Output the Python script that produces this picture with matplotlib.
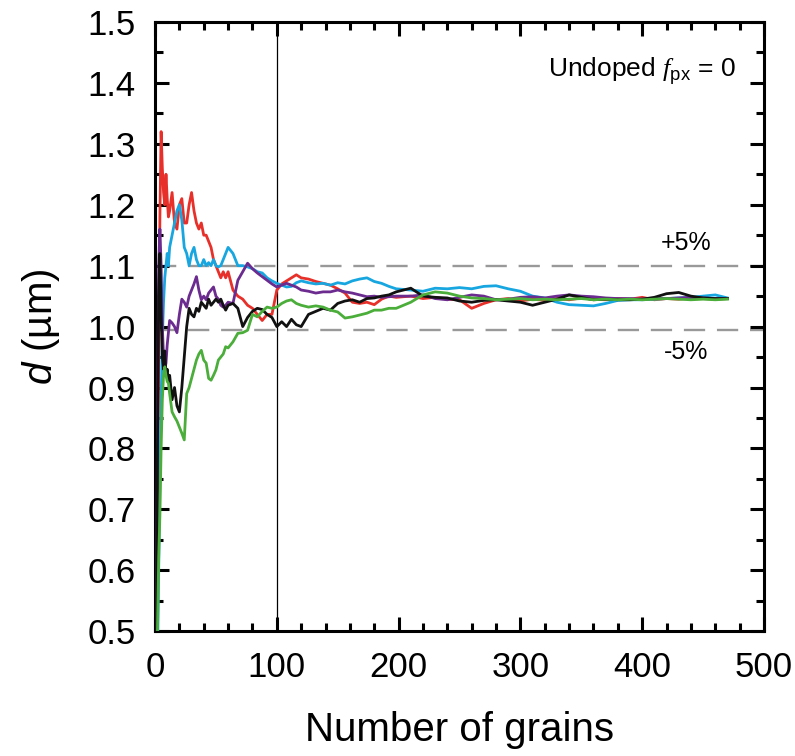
import matplotlib
matplotlib.use("Agg")
import matplotlib.pyplot as plt
from matplotlib.ticker import MultipleLocator

plt.rcParams['font.family'] = ['Liberation Sans', 'DejaVu Sans']
plt.rcParams['mathtext.fontset'] = 'custom'
plt.rcParams['mathtext.rm'] = 'Liberation Sans'
plt.rcParams['mathtext.it'] = 'Liberation Sans:italic'
plt.rcParams['mathtext.cal'] = 'Liberation Serif:italic'

# running mean grain size d (um) against number of grains counted
grains = [1, 2, 3, 4, 5, 6, 7, 8, 9, 10, 11, 12,
          14, 16, 18, 20, 22, 24, 26, 28, 30, 32, 34, 36, 38, 40, 42, 44, 46, 48, 50, 52, 54, 56, 58, 60,
          64, 68, 72, 76, 80, 84, 88, 92, 96, 100, 104, 108, 112, 116, 120,
          126, 132, 138, 144, 150, 156, 162, 168, 174, 180, 186, 192, 198,
          210, 220, 230, 240, 250, 260, 270, 280, 290, 300, 310, 320, 330, 340, 350, 360, 370, 380, 390,
          400, 410, 420, 430, 440, 450, 460, 470]

d_red = [0.40, 0.62, 0.95, 1.18, 1.32, 1.26, 1.22, 1.20, 1.25, 1.21, 1.18, 1.19,
         1.22, 1.17, 1.16, 1.20, 1.21, 1.17, 1.17, 1.20, 1.22, 1.19, 1.17, 1.16, 1.17, 1.15, 1.15, 1.14,
         1.13, 1.11, 1.10, 1.09, 1.08, 1.09, 1.08, 1.09,
         1.06, 1.05, 1.045, 1.035, 1.03, 1.02, 1.01, 1.02, 1.02, 1.06, 1.07, 1.075, 1.08, 1.085, 1.08,
         1.078, 1.074, 1.071, 1.068, 1.062, 1.055, 1.04, 1.038, 1.04, 1.036, 1.045, 1.05, 1.048,
         1.05, 1.046, 1.048, 1.045, 1.044, 1.03, 1.038, 1.044, 1.046, 1.042, 1.045, 1.043, 1.046, 1.044,
         1.047, 1.045, 1.044, 1.046, 1.045, 1.048, 1.044, 1.046, 1.045, 1.047, 1.046, 1.045, 1.046]

d_cyan = [0.30, 0.45, 0.60, 0.75, 0.88, 0.98, 1.04, 1.08, 1.10, 1.12, 1.10, 1.13,
          1.15, 1.17, 1.19, 1.20, 1.175, 1.13, 1.12, 1.10, 1.12, 1.13, 1.11, 1.10, 1.10, 1.11, 1.10, 1.105,
          1.10, 1.11, 1.10, 1.098, 1.10, 1.11, 1.12, 1.13,
          1.12, 1.10, 1.10, 1.098, 1.095, 1.09, 1.088, 1.08, 1.075, 1.071, 1.068, 1.065, 1.066, 1.072, 1.075,
          1.072, 1.07, 1.071, 1.068, 1.072, 1.07, 1.075, 1.078, 1.08, 1.074, 1.071, 1.066, 1.062,
          1.06, 1.058, 1.063, 1.062, 1.064, 1.062, 1.066, 1.067, 1.062, 1.058, 1.05, 1.047, 1.04, 1.036,
          1.035, 1.034, 1.038, 1.043, 1.044, 1.044, 1.045, 1.046, 1.047, 1.048, 1.05, 1.052, 1.047]

d_black = [0.42, 0.80, 1.05, 1.12, 1.02, 0.95, 0.93, 0.96, 0.92, 0.93, 0.91, 0.92,
           0.88, 0.90, 0.87, 0.86, 0.90, 0.95, 1.00, 1.03, 1.02, 1.016, 1.03, 1.025, 1.04, 1.035, 1.03, 1.045,
           1.035, 1.04, 1.045, 1.04, 1.045, 1.035, 1.027, 1.035,
           1.038, 1.03, 1.0, 1.015, 1.025, 1.03, 1.028, 1.02, 1.015, 1.0, 1.008, 1.0, 1.012, 1.003, 1.0,
           1.02, 1.025, 1.03, 1.027, 1.038, 1.042, 1.044, 1.04, 1.046, 1.047, 1.05, 1.052, 1.057,
           1.063, 1.05, 1.048, 1.047, 1.042, 1.04, 1.043, 1.044, 1.042, 1.04, 1.035, 1.04, 1.045, 1.052,
           1.048, 1.044, 1.045, 1.044, 1.044, 1.045, 1.048, 1.054, 1.056, 1.05, 1.047, 1.046, 1.046]

d_purple = [0.40, 0.85, 1.10, 1.16, 1.10, 1.00, 0.95, 0.93, 0.94, 0.97, 0.99, 1.01,
            1.006, 1.0, 0.99, 1.02, 1.045, 1.04, 1.032, 1.05, 1.06, 1.07, 1.082, 1.06, 1.044, 1.05, 1.044, 1.055,
            1.06, 1.065, 1.05, 1.045, 1.035, 1.032, 1.035, 1.04,
            1.038, 1.076, 1.09, 1.104, 1.095, 1.088, 1.082, 1.076, 1.07, 1.065, 1.068, 1.071, 1.068, 1.065, 1.06,
            1.058, 1.055, 1.057, 1.057, 1.06, 1.057, 1.055, 1.052, 1.049, 1.05, 1.048, 1.049, 1.05,
            1.05, 1.052, 1.046, 1.044, 1.048, 1.052, 1.05, 1.044, 1.045, 1.048, 1.049, 1.047, 1.05, 1.052,
            1.05, 1.049, 1.047, 1.046, 1.046, 1.045, 1.046, 1.046, 1.047, 1.048, 1.047, 1.046, 1.046]

d_green = [0.35, 0.50, 0.62, 0.69, 0.80, 0.88, 0.92, 0.934, 0.92, 0.91, 0.907, 0.89,
           0.86, 0.852, 0.845, 0.835, 0.825, 0.814, 0.89, 0.90, 0.915, 0.93, 0.945, 0.955, 0.961, 0.945, 0.94,
           0.915, 0.912, 0.92, 0.929, 0.945, 0.95, 0.955, 0.967, 0.965,
           0.975, 0.989, 0.99, 0.994, 1.02, 1.016, 1.025, 1.032, 1.03, 1.032, 1.038, 1.042, 1.044, 1.038, 1.035,
           1.032, 1.034, 1.032, 1.027, 1.024, 1.014, 1.016, 1.019, 1.022, 1.027, 1.027, 1.03, 1.03,
           1.04, 1.052, 1.057, 1.055, 1.05, 1.047, 1.046, 1.044, 1.045, 1.046, 1.044, 1.045, 1.044, 1.045,
           1.046, 1.044, 1.045, 1.044, 1.045, 1.044, 1.045, 1.046, 1.045, 1.044, 1.045, 1.044, 1.045]

series = [(d_red, '#e8302a'), (d_cyan, '#17a6df'), (d_purple, '#6b2b8f'),
          (d_black, '#111111'), (d_green, '#4bad3a')]

d_mean = 1.047
band = [d_mean * 1.05, d_mean * 0.95]

fig = plt.figure(figsize=(7.95, 7.56), dpi=100)
ax = fig.add_axes([0.195, 0.165, 0.766, 0.806])

for ys, c in series:
    ax.plot(grains, ys, color=c, lw=2.0, zorder=3)

ax.axvline(100, color='black', lw=0.9, zorder=2)
for b in band:
    ax.axhline(b, color='#999999', lw=1.7, dashes=(9, 5), zorder=1)

ax.text(436, 1.137, '+5%', fontsize=18, ha='center', va='center')
ax.text(436, 0.958, '-5%', fontsize=18, ha='center', va='center')
ax.text(477, 1.42, r'Undoped $\mathcal{f}_{\mathrm{px}}$ = 0', fontsize=19, ha='right', va='center')

ax.set_xlim(0, 500)
ax.set_ylim(0.5, 1.5)
ax.xaxis.set_major_locator(MultipleLocator(100))
ax.xaxis.set_minor_locator(MultipleLocator(20))
ax.yaxis.set_minor_locator(MultipleLocator(0.05))
ax.set_yticks([0.5, 0.6, 0.7, 0.8, 0.9, 1.0, 1.1, 1.2, 1.3, 1.4, 1.5])
ax.set_yticklabels(['0.5', '0.6', '0.7', '0.8', '0.9', '1.0', '1.1', '1.2', '1.3', '1.4', '1.5'])
ax.tick_params(which='both', direction='in', top=True, right=True, width=2.2, labelsize=25, pad=14)
ax.tick_params(which='major', length=10)
ax.tick_params(which='minor', length=6)
for s in ax.spines.values():
    s.set_linewidth(2.2)

ax.set_xlabel('Number of grains', fontsize=29, labelpad=20)
ax.set_ylabel(r'$\it{d}$ (µm)', fontsize=29, labelpad=18)

plt.savefig('out.png', dpi=100)
plt.close()
